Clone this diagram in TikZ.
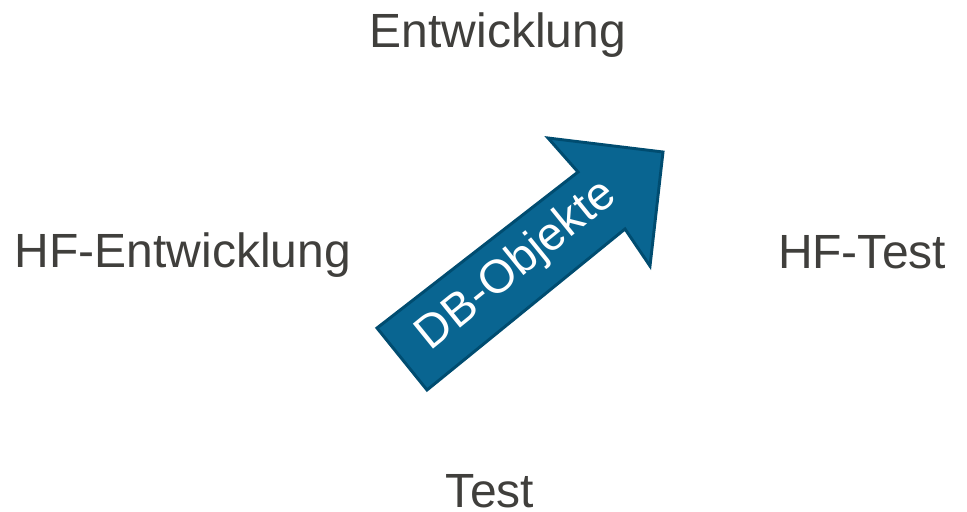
\documentclass[tikz,border=0pt]{standalone}
\usepackage{fontspec}
\setmainfont{Liberation Sans}
\usetikzlibrary{positioning}
\definecolor{labelgray}{RGB}{64,63,60}
\definecolor{dbblue}{RGB}{9,101,145}
\definecolor{dbedge}{RGB}{0,76,112}
\tikzset{>=latex}
\tikzstyle{phase}  = [text=labelgray, anchor=base, inner sep=0pt, font=\fontsize{36}{43}\selectfont]
\tikzstyle{flow}   = [fill=dbblue, draw=dbedge, line width=2.2pt, line join=miter]
\tikzstyle{flowtxt}= [text=white, inner sep=0pt, font=\fontsize{35}{42}\selectfont]

\begin{document}
\begin{tikzpicture}[x=0.75pt, y=-0.75pt]
      \useasboundingbox (0,0) rectangle (967,511);
      % the four phases
      \node[phase] (dev)   at (498,47)  {Entwicklung};
      \node[phase] (hfdev) at (183,267) {HF-Entwicklung};
      \node[phase] (hftst) at (862,268) {HF-Test};
      \node[phase] (tst)   at (490,507) {Test};
      % outline of the big arrow
      \coordinate (tl) at (377,328);
      \coordinate (tb) at (427,390);
      \coordinate (nl) at (625,229);
      \coordinate (bl) at (650,266);
      \coordinate (tip) at (663,152);
      \coordinate (bu) at (548,138);
      \coordinate (nu) at (578,172);
      \draw[flow] (tl) -- (tb) -- (nl) -- (bl) -- (tip) -- (bu) -- (nu) -- cycle;
      \node[flowtxt, rotate=39] (db) at (517,266) {DB-Objekte};
    \end{tikzpicture}
\end{document}
